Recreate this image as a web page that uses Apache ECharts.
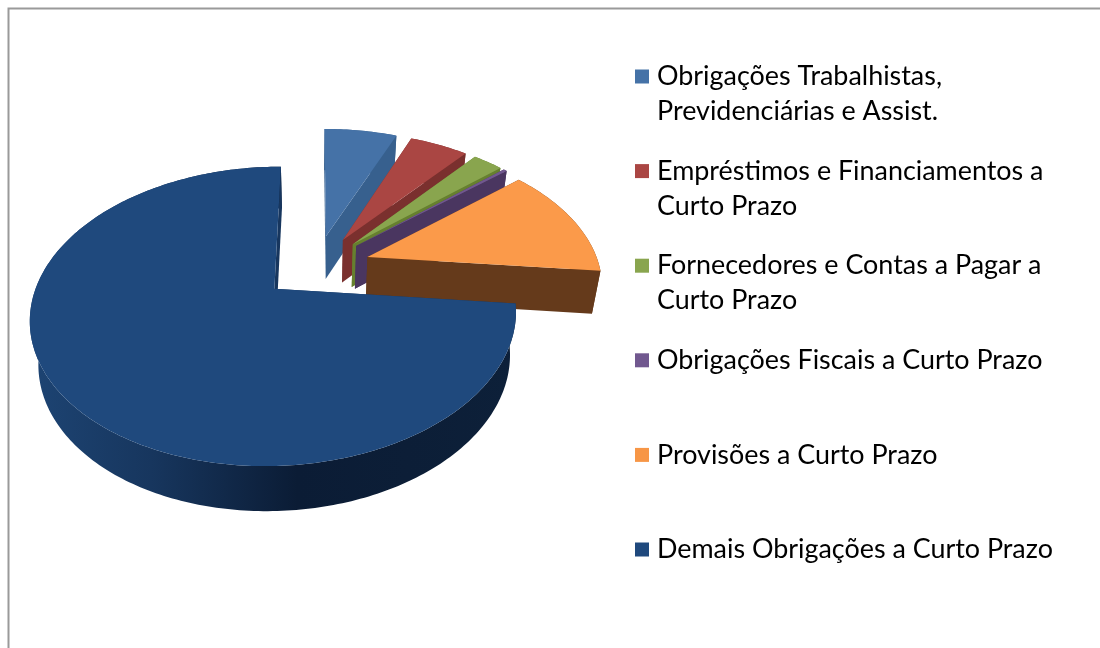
<!DOCTYPE html>
<html>
<head>
<meta charset="utf-8">
<script src="https://cdn.jsdelivr.net/npm/echarts@6/dist/echarts.min.js"></script>
<style>
  html, body { margin: 0; padding: 0; background: #fff; }
  #main { width: 1100px; height: 648px; }
</style>
</head>
<body>
<div id="main"></div>
<script>
// valores (% do total)
var categories = [
  'Obrigações Trabalhistas,\nPrevidenciárias e Assist.',
  'Empréstimos e Financiamentos a\nCurto Prazo',
  'Fornecedores e Contas a Pagar a\nCurto Prazo',
  'Obrigações Fiscais a Curto Prazo',
  'Provisões a Curto Prazo',
  'Demais Obrigações a Curto Prazo'
];
var values = [6.1, 4.9, 2.5, 0.3, 12.8, 73.4];

var topColors = ['#4572A7', '#AA4643', '#89A54E', '#71588F', '#FB9A4A', '#1F497D'];
var wallColors = ['#37608E', '#7A302E', '#66802F', '#4A3660', '#653A1B', '#17365E'];

// pie 3D: perspectiva simples sobre o plano do disco
var cx = 316, cy = 266.5, Rx = 232, Ry = 136.5;
var persp = 0.18, depth = 43, explode = 0.235, shrink = 0.97;
var total = values.reduce(function (a, b) { return a + b; }, 0);

function project(u, v, bottom) {
  var f = 1 / (1 + persp * v);
  var x = cx + Rx * u * f;
  var y = cy - Ry * v * f;
  if (bottom) {
    x = cx + (x - cx) * shrink;
    y += depth * Math.pow(f, 0.2);
  }
  return [x, y];
}

function renderSlice(idx, params, api) {
  var before = 0;
  for (var i = 0; i < idx; i++) before += values[i];
  var a0 = before / total * Math.PI * 2;
  var a1 = (before + api.value(0)) / total * Math.PI * 2;
  var mid = (a0 + a1) / 2;
  var ou = explode * Math.sin(mid), ov = explode * Math.cos(mid);

  function pt(a, r, bottom) {
    return project(ou + r * Math.sin(a), ov + r * Math.cos(a), bottom);
  }
  var arcTop = [], arcBottom = [];
  var steps = Math.max(4, Math.ceil((a1 - a0) * 60));
  for (var s = 0; s <= steps; s++) {
    var a = a0 + (a1 - a0) * s / steps;
    arcTop.push(pt(a, 1, false));
    arcBottom.push(pt(a, 1, true));
  }
  var wall = function (a) {
    return [pt(a, 0, false), pt(a, 1, false), pt(a, 1, true), pt(a, 0, true)];
  };
  var rimFill = wallColors[idx];
  if (idx === 5) {
    rimFill = new echarts.graphic.LinearGradient(0, 0, 1, 0, [
      { offset: 0, color: '#1D4473' },
      { offset: 0.25, color: '#17365E' },
      { offset: 0.55, color: '#0B1C35' },
      { offset: 1, color: '#0D2039' }
    ]);
  }
  return {
    type: 'group',
    children: [
      { type: 'polygon', shape: { points: wall(a0) }, style: { fill: wallColors[idx] } },
      { type: 'polygon', shape: { points: arcTop.concat(arcBottom.slice().reverse()) }, style: { fill: rimFill } },
      { type: 'polygon', shape: { points: wall(a1) }, style: { fill: wallColors[idx] } },
      { type: 'polygon', shape: { points: [pt(0, 0, false)].concat(arcTop) }, style: { fill: topColors[idx] } }
    ]
  };
}

// uma legenda por categoria: as linhas tem alturas diferentes mas o passo e fixo
var lineH = 35, rowGap = 94.6, legendTop = 63;
var legends = categories.map(function (name, i) {
  var twoLines = name.indexOf('\n') >= 0;
  return {
    orient: 'vertical',
    left: 635,
    top: legendTop + i * rowGap,
    padding: 0,
    icon: 'rect',
    itemWidth: 14,
    itemHeight: 14,
    selectedMode: false,
    data: [{
      name: name,
      textStyle: { padding: twoLines ? [lineH, 0, 0, 3] : [lineH, 0, lineH, 3] }
    }],
    formatter: function (n) {
      return n.split('\n').map(function (l) { return '{t|' + l + '}'; }).join('\n');
    },
    textStyle: {
      rich: { t: { fontFamily: 'Lato', fontSize: 26.9, color: '#000', lineHeight: lineH } }
    }
  };
});

var chart = echarts.init(document.getElementById('main'));
chart.setOption({
  animation: false,
  backgroundColor: '#fff',
  legend: legends,
  graphic: [{
    type: 'polyline',
    silent: true,
    shape: { points: [[8.5, 648], [8.5, 8.5], [1100, 8.5]] },
    style: { fill: null, stroke: '#9A9A9A', lineWidth: 2 }
  }],
  series: categories.map(function (name, i) {
    return {
      type: 'custom',
      name: name,
      coordinateSystem: 'none',
      itemStyle: { color: i === 4 ? '#F79646' : topColors[i] },
      renderItem: function (params, api) { return renderSlice(i, params, api); },
      data: [[values[i]]]
    };
  })
});
</script>
</body>
</html>
